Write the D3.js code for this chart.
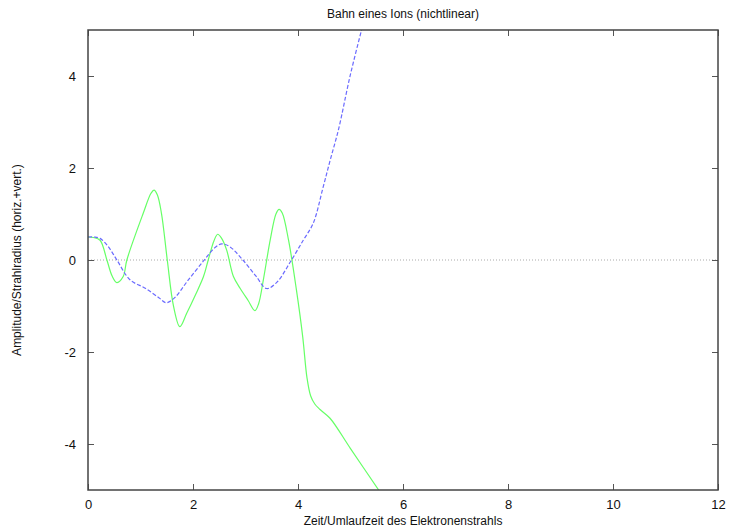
<!DOCTYPE html>
<html><head><meta charset="utf-8">
<script src="https://cdn.jsdelivr.net/npm/d3@7"></script>
<style>body{margin:0;background:#fff}svg{display:block}text{font-family:"Liberation Sans",Arial,sans-serif}</style>
</head><body>
<svg id="c" width="729" height="530"></svg>
<script>
const title = "Bahn eines Ions (nichtlinear)";
const xLabel = "Zeit/Umlaufzeit des Elektronenstrahls";
const yLabel = "Amplitude/Strahlradius (horiz.+vert.)";
const xTicks = [0, 2, 4, 6, 8, 10, 12];
const yTicks = [-4, -2, 0, 2, 4];
// green solid curve (horizontal)
const greenX = [0, 0.1, 0.23, 0.36, 0.46, 0.55, 0.67, 0.74, 1.05, 1.2, 1.257, 1.32, 1.40, 1.51, 1.63, 1.75, 1.88, 2.05, 2.2, 2.29, 2.40, 2.47, 2.54, 2.64, 2.77, 2.90, 3.05, 3.18, 3.25, 3.34, 3.47, 3.58, 3.64, 3.70, 3.82, 3.97, 4.09, 4.17, 4.24, 4.32, 4.42, 4.61, 5.0, 5.56];
const greenY = [0.5, 0.49, 0.43, 0.0, -0.35, -0.49, -0.36, 0.0, 1.01, 1.45, 1.52, 1.42, 1.01, 0.0, -1.01, -1.45, -1.16, -0.75, -0.36, 0.0, 0.42, 0.56, 0.48, 0.22, -0.36, -0.62, -0.88, -1.10, -0.95, -0.43, 0.43, 1.0, 1.10, 1.02, 0.43, -0.65, -1.67, -2.55, -2.95, -3.13, -3.25, -3.44, -4.1, -5.04];
// blue dashed curve (vertical)
const blueX = [0, 0.12, 0.23, 0.38, 0.55, 0.8, 1.1, 1.35, 1.49, 1.65, 1.9, 2.2, 2.42, 2.55, 2.70, 2.95, 3.2, 3.40, 3.60, 3.85, 4.10, 4.29, 4.48, 4.62, 4.77, 4.99, 5.21, 5.3];
const blueY = [0.5, 0.5, 0.47, 0.3, 0.0, -0.43, -0.62, -0.82, -0.93, -0.82, -0.45, -0.02, 0.27, 0.35, 0.29, 0.0, -0.35, -0.62, -0.48, -0.05, 0.43, 0.8, 1.59, 2.2, 2.83, 3.99, 5.0, 5.4];

const svg = d3.select("#c");
const L = 88, R = 718, T = 30, B = 490;
const x = d3.scaleLinear().domain([0, 12]).range([L, R]);
const y = d3.scaleLinear().domain([-5, 5]).range([B, T]);
const fmt = d => String(d); // plain hyphen-minus like the reference

const defs = svg.append("defs");
defs.append("clipPath").attr("id", "clip").append("rect")
  .attr("x", L).attr("y", T).attr("width", R - L).attr("height", B - T);

// zero line
svg.append("line").attr("x1", x(0)).attr("x2", x(12)).attr("y1", y(0)).attr("y2", y(0))
  .attr("stroke", "#aaa").attr("stroke-width", 1).attr("stroke-dasharray", "1,2");

const line = d3.line().x(d => x(d[0])).y(d => y(d[1])).curve(d3.curveCatmullRom.alpha(0.5));
const g = svg.append("g").attr("clip-path", "url(#clip)");
g.append("path").attr("d", line(greenX.map((v, i) => [v, greenY[i]])))
  .attr("fill", "none").attr("stroke", "#66ff66").attr("stroke-width", 1.2);
g.append("path").attr("d", line(blueX.map((v, i) => [v, blueY[i]])))
  .attr("fill", "none").attr("stroke", "#6b6bff").attr("stroke-width", 1.2).attr("stroke-dasharray", "4,2");

// axes with inward ticks on all sides
const tl = 6;
const axB = svg.append("g").attr("transform", `translate(0,${B})`).call(d3.axisBottom(x).tickValues(xTicks).tickSize(-tl).tickPadding(10).tickFormat(fmt));
const axT = svg.append("g").attr("transform", `translate(0,${T})`).call(d3.axisTop(x).tickValues(xTicks).tickSize(-tl).tickFormat(""));
const axL = svg.append("g").attr("transform", `translate(${L},0)`).call(d3.axisLeft(y).tickValues(yTicks).tickSize(-tl).tickPadding(12).tickFormat(fmt));
const axR = svg.append("g").attr("transform", `translate(${R},0)`).call(d3.axisRight(y).tickValues(yTicks).tickSize(-tl).tickFormat(""));
[axB, axT, axL, axR].forEach(a => {
  a.select(".domain").remove();
  a.selectAll(".tick line").attr("stroke", "#555").attr("stroke-width", 1);
  a.selectAll("text").attr("font-size", 13).attr("fill", "#111").attr("font-family", "Liberation Sans, Arial, sans-serif");
});
axB.selectAll("text").attr("dy", "0.71em");

svg.append("rect").attr("x", L).attr("y", T).attr("width", R - L).attr("height", B - T)
  .attr("fill", "none").attr("stroke", "#444").attr("stroke-width", 1.5);

svg.append("text").attr("x", (L + R) / 2).attr("y", 18).attr("text-anchor", "middle")
  .attr("font-size", 12).attr("fill", "#111").text(title);
svg.append("text").attr("x", (L + R) / 2).attr("y", 525).attr("text-anchor", "middle")
  .attr("font-size", 12).attr("fill", "#111").text(xLabel);
svg.append("text").attr("transform", `translate(21,${(T + B) / 2}) rotate(-90)`).attr("text-anchor", "middle")
  .attr("font-size", 12).attr("fill", "#111").text(yLabel);
</script>
</body></html>
